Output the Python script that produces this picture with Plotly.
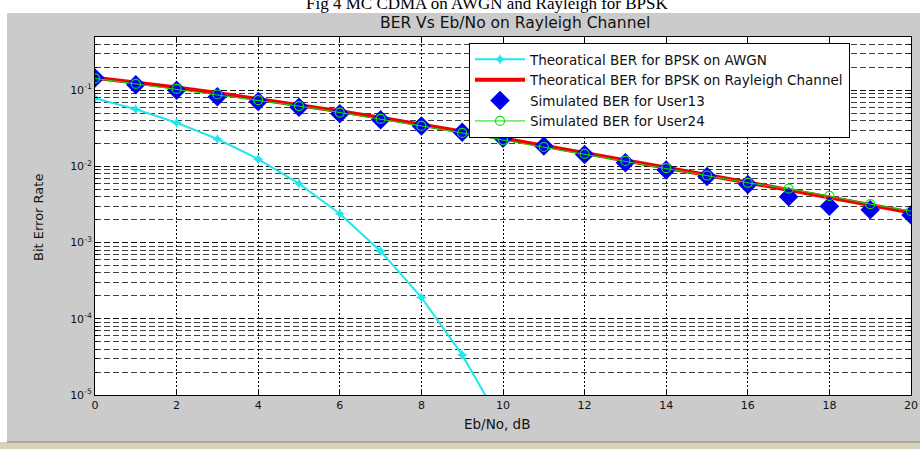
import plotly.graph_objects as go

# ---- data ----
ebno_db = list(range(0, 21))
ber_awgn_x = list(range(0, 12))
ber_awgn = [0.0786, 0.0563, 0.0375, 0.0229, 0.0125, 0.00595, 0.00239,
            0.000773, 0.000191, 3.36e-05, 3.9e-06, 2.6e-07]
ber_rayleigh = [0.1464, 0.1267, 0.1085, 0.0919, 0.0771, 0.0642, 0.0530,
                0.0435, 0.0355, 0.0288, 0.0233, 0.0187, 0.0151, 0.0121,
                0.00967, 0.00773, 0.00617, 0.00492, 0.00391, 0.00311, 0.00248]
ber_user13 = [0.145, 0.118, 0.100, 0.082, 0.071, 0.060, 0.049, 0.041, 0.034,
              0.028, 0.0235, 0.0185, 0.0143, 0.0112, 0.0090, 0.0074, 0.0058,
              0.0040, 0.0030, 0.0027, 0.0023]
ber_user24 = [0.143, 0.121, 0.104, 0.088, 0.074, 0.062, 0.051, 0.042, 0.034,
              0.0275, 0.0222, 0.0180, 0.0146, 0.0118, 0.0095, 0.0076, 0.0061,
              0.0051, 0.0041, 0.0032, 0.0026]

series_names = ["Theoratical BER for BPSK on AWGN",
                "Theoratical BER for BPSK on Rayleigh Channel",
                "Simulated BER for User13",
                "Simulated BER for User24"]
x_tickvals = list(range(0, 21, 2))
y_tickvals = [1e-5, 1e-4, 1e-3, 1e-2, 1e-1]
y_ticktext = ["10<sup>-5</sup>", "10<sup>-4</sup>", "10<sup>-3</sup>",
              "10<sup>-2</sup>", "10<sup>-1</sup>"]
caption = "Fig 4 MC CDMA on AWGN and Rayleigh for BPSK"
title = "BER Vs Eb/No on Rayleigh Channel"
x_title = "Eb/No, dB"
y_title = "Bit Error Rate"

# ---- geometry ----
W, H = 920, 449
L, R, T, B = 95, 9, 37, 54
pw, ph = W - L - R, H - T - B


def px2x(px):
    return (px - L) / pw


def px2y(py):
    return (H - B - py) / ph


FONT = "Liberation Sans, Arial, sans-serif"
WIDE = "DejaVu Sans, Verdana, sans-serif"
GREY = "#cbcbcb"

fig = go.Figure()
fig.add_trace(go.Scatter(
    x=ber_awgn_x, y=ber_awgn, name=series_names[0], mode="lines+markers",
    line=dict(color="#22e6ee", width=2),
    marker=dict(symbol="star-diamond", size=8, color="#22e6ee")))
fig.add_trace(go.Scatter(
    x=ebno_db, y=ber_rayleigh, name=series_names[1], mode="lines",
    line=dict(color="#f00000", width=4)))
fig.add_trace(go.Scatter(
    x=ebno_db, y=ber_user13, name=series_names[2], mode="markers",
    marker=dict(symbol="diamond", size=15, color="#0000f0")))
fig.add_trace(go.Scatter(
    x=ebno_db, y=ber_user24, name=series_names[3], mode="lines+markers",
    line=dict(color="#10e010", width=1),
    marker=dict(symbol="circle-open", size=9, color="#10e010",
                line=dict(width=1.2))))

shapes = [
    dict(type="rect", xref="paper", yref="paper", x0=-0.2, x1=1.2,
         y0=px2y(13), y1=px2y(-20), fillcolor="white", line_width=0, layer="below"),
    dict(type="rect", xref="paper", yref="paper", x0=px2x(-20), x1=px2x(7),
         y0=px2y(470), y1=px2y(-20), fillcolor="white", line_width=0, layer="below"),
    dict(type="rect", xref="paper", yref="paper", x0=px2x(-20), x1=px2x(940),
         y0=px2y(470), y1=px2y(442), fillcolor="#d8d1bf", line_width=0, layer="below"),
    dict(type="line", xref="paper", yref="paper", x0=px2x(7), x1=px2x(940),
         y0=px2y(442), y1=px2y(442), line=dict(color="#8c8678", width=1), layer="below"),
]

annotations = [
    dict(text=caption, xref="paper", yref="paper", x=px2x(487), y=px2y(3),
         xanchor="center", yanchor="middle", showarrow=False,
         font=dict(family="Liberation Serif, Times New Roman, serif", size=17, color="black")),
    dict(text=title, xref="paper", yref="paper", x=px2x(515), y=px2y(23),
         xanchor="center", yanchor="middle", showarrow=False,
         font=dict(family=WIDE, size=15.5, color="#111")),
    dict(text=x_title, xref="paper", yref="paper", x=px2x(497), y=px2y(424),
         xanchor="center", yanchor="middle", showarrow=False,
         font=dict(family=WIDE, size=13.5, color="#111")),
    dict(text=y_title, xref="paper", yref="paper", x=px2x(38), y=px2y(218),
         xanchor="center", yanchor="middle", showarrow=False, textangle=-90,
         font=dict(family=WIDE, size=13, color="#111")),
]

fig.update_layout(
    width=W, height=H,
    margin=dict(l=L, r=R, t=T, b=B, autoexpand=False),
    paper_bgcolor=GREY, plot_bgcolor="white",
    font=dict(family=FONT, size=11, color="#111"),
    shapes=shapes, annotations=annotations,
    showlegend=True,
    legend=dict(x=px2x(469), y=px2y(43), xanchor="left", yanchor="top",
                bgcolor="white", bordercolor="black", borderwidth=1,
                font=dict(family=WIDE, size=13.5, color="#111"),
                itemwidth=50, tracegroupgap=0),
    xaxis=dict(range=[0, 20], tickvals=x_tickvals,
               ticks="inside", ticklen=5, tickcolor="black",
               showline=True, linecolor="black", linewidth=1, mirror="allticks",
               showgrid=True, gridcolor="black", gridwidth=1, griddash="2px,2px",
               zeroline=False, tickfont=dict(family=WIDE, size=11)),
    yaxis=dict(type="log", range=[-5, -0.30103], tickvals=y_tickvals,
               ticktext=y_ticktext,
               ticks="inside", ticklen=5, tickcolor="black",
               showline=True, linecolor="black", linewidth=1, mirror="allticks",
               showgrid=True, gridcolor="rgba(0,0,0,0.8)", gridwidth=1,
               griddash="6px,3px", zeroline=False,
               tickfont=dict(family=WIDE, size=11),
               minor=dict(dtick="D1", ticks="inside", ticklen=3, tickcolor="black",
                          showgrid=True, gridcolor="rgba(0,0,0,0.75)",
                          griddash="6px,3px", gridwidth=1)),
)

fig.write_html(
    "out.html",
    config={"displayModeBar": False},
    post_script="document.body.style.margin='0px';"
                "document.body.style.padding='0px';"
                "document.body.style.overflow='hidden';")
